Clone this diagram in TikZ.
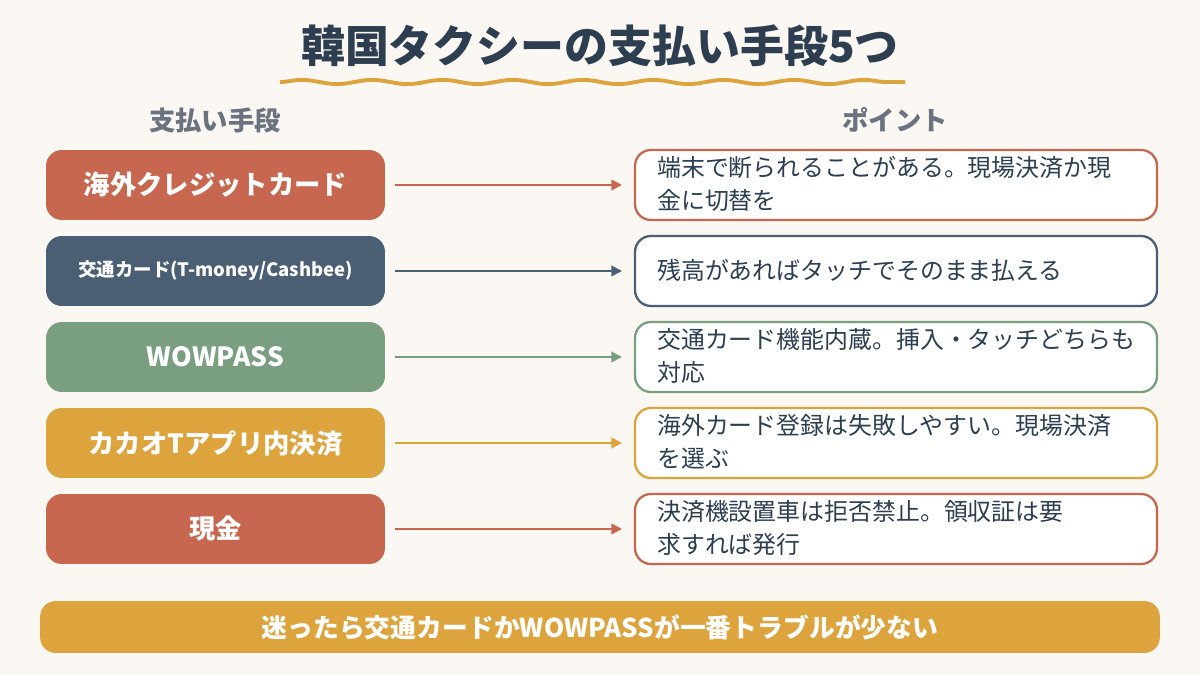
\documentclass[tikz,border=0pt]{standalone}
\usepackage{fontspec}
\setmainfont{Noto Sans CJK JP}
\usetikzlibrary{decorations.pathmorphing,arrows.meta}
\definecolor{bg}{HTML}{FBF7F2}
\definecolor{cred}{HTML}{C8674F}
\definecolor{cblue}{HTML}{4A5E74}
\definecolor{cgreen}{HTML}{7A9E80}
\definecolor{cyel}{HTML}{DDA43E}
\definecolor{ctitle}{HTML}{2C3E50}
\definecolor{cgray}{HTML}{6B7280}
\tikzset{
 lbox/.style={rounded corners=9pt, minimum width=6.78cm, minimum height=1.4cm, text=white, font=\fontsize{15}{16}\selectfont\bfseries, inner sep=0pt},
 rbox/.style={rounded corners=9pt, draw, line width=1.3pt, fill=white, minimum width=10.44cm, minimum height=1.4cm, inner sep=0pt},
 rtxt/.style={anchor=west, text width=9.9cm, align=left, inner sep=0pt, font=\fontsize{13.6}{18.5}\selectfont, text=ctitle},
 arr/.style={line width=1pt, -{Triangle[length=6pt,width=6pt]}},
 hdr/.style={text=cgray, font=\fontsize{15}{17}\selectfont\bfseries}
}
\begin{document}
\begin{tikzpicture}[x=0.02cm,y=-0.02cm]
\fill[bg] (0,0) rectangle (1200,675);
\useasboundingbox (0,0) rectangle (1200,675);
\node[text=ctitle, font=\fontsize{25}{28}\selectfont\bfseries] (title) at (600,46) {韓国タクシーの支払い手段5つ};
\draw[cyel, line width=2.2pt, decorate, decoration={snake, amplitude=1.2pt, segment length=40pt}] (280,82) -- (905,82);
\node[hdr] (h1) at (215,120) {支払い手段};
\node[hdr] (h2) at (895,120) {ポイント};
\foreach \i/\c/\t/\r [count=\n] in {
 185/cred/{海外クレジットカード}/{端末で断られることがある。現場決済か現\\金に切替を},
 271/cblue/{\fontsize{10.5}{12}\selectfont 交通カード(T-money/Cashbee)}/{残高があればタッチでそのまま払える},
 357/cgreen/{WOWPASS}/{交通カード機能内蔵。挿入・タッチどちらも\\対応},
 443/cyel/{カカオTアプリ内決済}/{海外カード登録は失敗しやすい。現場決済\\を選ぶ},
 529/cred/{現金}/{決済機設置車は拒否禁止。領収証は要\\求すれば発行}} {
 \node[lbox, fill=\c] (L\n) at (215.5,\i) {\t};
 \node[rbox, draw=\c] (R\n) at (896,\i) {};
 \draw[arr, draw=\c, fill=\c] (395,\i) coordinate (s\n) -- (R\n.west -| 622,\i);
 \node[rtxt] (T\n) at ([xshift=0.46cm,yshift=0.02cm]R\n.west) {\r};
}
\node[fill=cyel, rounded corners=9pt, minimum width=22.4cm, minimum height=1.04cm, text=white, font=\fontsize{14.7}{16}\selectfont\bfseries] (bar) at (600,627) {迷ったら交通カードかWOWPASSが一番トラブルが少ない};
\end{tikzpicture}
\end{document}
